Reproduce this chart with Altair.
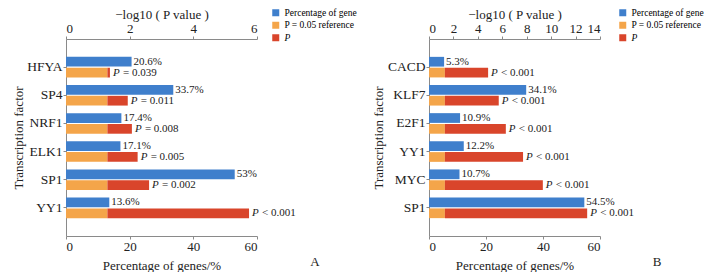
import altair as alt
import pandas as pd

FONT = "Liberation Serif, Times New Roman, serif"
BLUE = "#3f7fcc"
ORANGE = "#f4a54a"
RED = "#d9452b"
AXIS_GREY = "#8a8a8a"

REF = 1.301  # -log10(0.05)

SERIES = ["Percentage of gene", "P = 0.05 reference", "P"]

# Panel A
a_tf = ["HFYA", "SP4", "NRF1", "ELK1", "SP1", "YY1"]
a_pct = [20.6, 33.7, 17.4, 17.1, 53.0, 13.6]
a_pct_lbl = ["20.6%", "33.7%", "17.4%", "17.1%", "53%", "13.6%"]
a_logp = [1.38, 1.94, 2.07, 2.25, 2.61, 5.75]
a_p_lbl = ["= 0.039", "= 0.011", "= 0.008", "= 0.005", "= 0.002", "< 0.001"]

# Panel B
b_tf = ["CACD", "KLF7", "E2F1", "YY1", "MYC", "SP1"]
b_pct = [5.3, 34.1, 10.9, 12.2, 10.7, 54.5]
b_pct_lbl = ["5.3%", "34.1%", "10.9%", "12.2%", "10.7%", "54.5%"]
b_logp = [4.84, 5.71, 6.29, 7.70, 9.32, 12.95]
b_p_lbl = ["< 0.001", "< 0.001", "< 0.001", "< 0.001", "< 0.001", "< 0.001"]


def panel(tfs, pct, pct_lbl, logp, p_lbl, pmax, width, letter, legend_x, letter_x):
    gene = pd.DataFrame({"tf": tfs, "row": "gene", "pct": pct, "lbl": pct_lbl,
                         "series": SERIES[0]})
    ref = pd.DataFrame({"tf": tfs, "row": "p", "x0": [0.0] * len(tfs), "x1": [REF] * len(tfs),
                        "series": SERIES[1]})
    pv = pd.DataFrame({"tf": tfs, "row": "p", "x0": [REF] * len(tfs), "x1": logp,
                       "lbl": p_lbl, "series": SERIES[2]})

    y = alt.Y("tf:N", sort=tfs,
              scale=alt.Scale(paddingInner=0, paddingOuter=0.5),
              axis=alt.Axis(title="Transcription factor", titlePadding=1.5,
                            labelFontSize=13.5, titleFontSize=13, labelPadding=1))
    yoff = alt.YOffset("row:N", scale=alt.Scale(domain=["gene", "p"],
                                                paddingInner=0.1, paddingOuter=0.35))
    color = alt.Color("series:N",
                      scale=alt.Scale(domain=SERIES, range=[BLUE, ORANGE, RED]),
                      legend=alt.Legend(orient="none", legendX=legend_x, legendY=-31,
                                        title=None, symbolType="square", symbolSize=49,
                                        symbolStrokeWidth=0, labelFont=FONT,
                                        labelFontSize=9.5, rowPadding=1.5,
                                        labelFontStyle=alt.ExprRef("datum.label == 'P' ? 'italic' : 'normal'")))

    bot_scale = alt.Scale(domain=[0, 60], nice=False)
    bot_axis = alt.Axis(orient="bottom", values=[0, 20, 40, 60],
                        title="Percentage of genes/%", titlePadding=6)
    top_scale = alt.Scale(domain=[0, pmax], nice=False)
    top_axis = alt.Axis(orient="top", values=list(range(0, pmax + 1, 2)),
                        title="\u2212log10 ( P value )", titlePadding=1)

    blue = alt.Chart(gene).mark_bar().encode(
        y=y, yOffset=yoff,
        x=alt.X("pct:Q", scale=bot_scale, axis=bot_axis),
        color=color,
    )
    blue_txt = alt.Chart(gene).mark_text(align="left", baseline="middle", dx=2,
                                         font=FONT, fontSize=11, color="#222").encode(
        y=y, yOffset=yoff,
        x=alt.X("pct:Q", scale=bot_scale, axis=bot_axis),
        text="lbl:N",
    )
    bottom = alt.layer(blue, blue_txt)

    orange = alt.Chart(ref).mark_bar().encode(
        y=y, yOffset=yoff,
        x=alt.X("x0:Q", scale=top_scale, axis=top_axis),
        x2="x1:Q",
        color=color,
    )
    red = alt.Chart(pv).mark_bar().encode(
        y=y, yOffset=yoff,
        x=alt.X("x0:Q", scale=top_scale, axis=top_axis),
        x2="x1:Q",
        color=color,
    )
    p_it = alt.Chart(pv).mark_text(align="left", baseline="middle", dx=3,
                                   font=FONT, fontSize=11, fontStyle="italic",
                                   color="#222").encode(
        y=y, yOffset=yoff,
        x=alt.X("x1:Q", scale=top_scale, axis=top_axis),
        text=alt.value("P"),
    )
    p_txt = alt.Chart(pv).mark_text(align="left", baseline="middle", dx=13,
                                    font=FONT, fontSize=11, color="#222").encode(
        y=y, yOffset=yoff,
        x=alt.X("x1:Q", scale=top_scale, axis=top_axis),
        text="lbl:N",
    )
    top = alt.layer(orange, red, p_it, p_txt)

    lt = alt.Chart(pd.DataFrame({"t": [letter]})).mark_text(
        font=FONT, fontSize=13, color="#222", align="center", baseline="middle").encode(
        text="t:N", x=alt.value(letter_x), y=alt.value(223))

    return alt.layer(bottom, top, lt).resolve_scale(x="independent").properties(
        width=width, height=197)


pa = panel(a_tf, a_pct, a_pct_lbl, a_logp, a_p_lbl, 6, 191, "A", 205, 249)
pb = panel(b_tf, b_pct, b_pct_lbl, b_logp, b_p_lbl, 14, 171, "B", 189, 228)

chart = alt.hconcat(pa, pb, spacing=15).resolve_scale(
    color="independent", y="independent"
).properties(
    padding={"left": 4, "top": 0, "right": 5, "bottom": 0}
).configure(
    font=FONT
).configure_view(
    stroke=None
).configure_axis(
    labelFont=FONT, titleFont=FONT, labelFontSize=13, titleFontSize=13,
    titleFontWeight="normal", labelColor="#222", titleColor="#222",
    domainColor=AXIS_GREY, tickColor=AXIS_GREY, tickSize=3, grid=False,
    labelPadding=1
)

chart.save("out.html", embed_options={"renderer": "svg", "actions": False})
